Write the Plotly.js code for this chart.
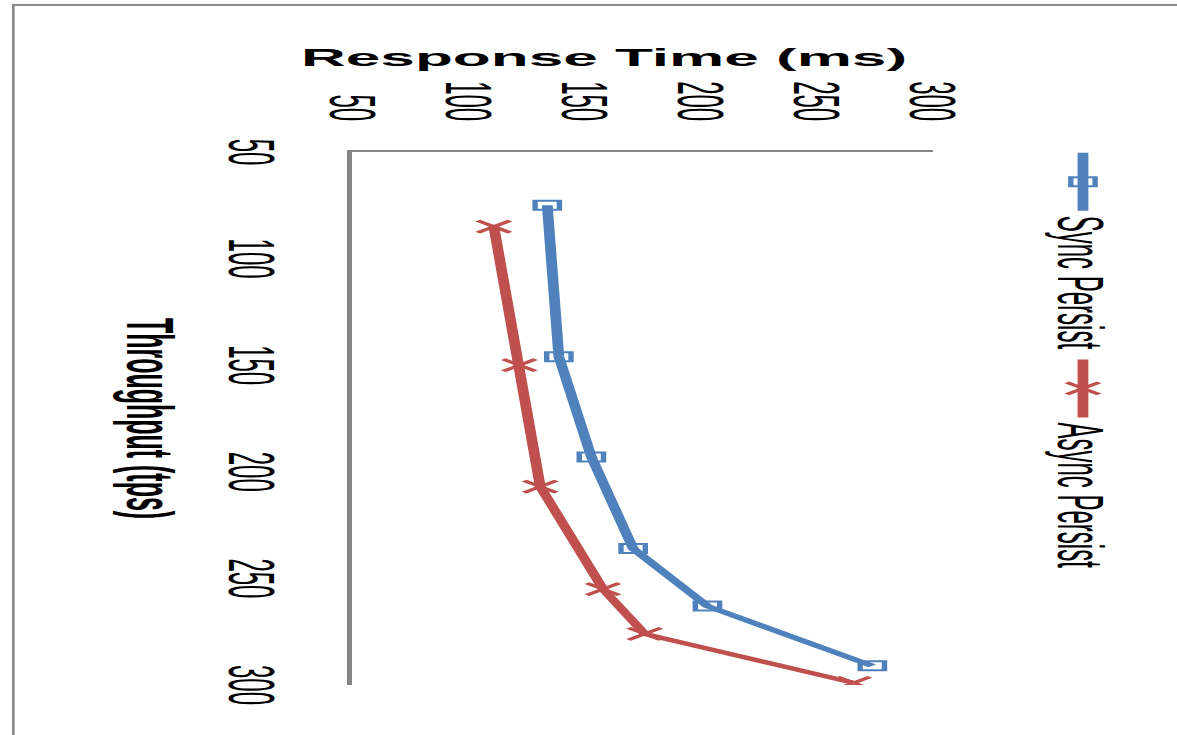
<!DOCTYPE html>
<html>
<head>
<meta charset="utf-8">
<script src="https://cdn.plot.ly/plotly-3.0.1.min.js"></script>
<style>
  html, body { margin: 0; padding: 0; background: #ffffff; overflow: hidden; width: 1177px; height: 735px; }
  /* The original chart is drawn upright, then turned 90° clockwise and stretched sideways,
     exactly as it appears in the reference picture. */
  #chart, #frame {
    position: absolute; left: 0; top: 0;
    width: 760px; height: 440px;
    transform-origin: 0 0;
    transform: matrix(0, 1, -2.7, 0, 1200, 4);
  }
  #frame {
    box-sizing: border-box;
    border-left: 2px solid #8a8a8a;
    border-bottom: 1.5px solid #8a8a8a;
    pointer-events: none;
  }
</style>
</head>
<body>
<div id="chart"></div>
<div id="frame"></div>
<script>
// ---- data ----
const seriesNames = ["Sync Persist", "Async Persist"];
const throughputSync = [75, 146, 193, 236, 263, 291];
const responseSync   = [134, 139, 153, 171, 203, 274];
const throughputAsync = [85, 150, 207, 255, 276, 299];
const responseAsync   = [111, 122, 131, 158, 176, 266];
const xTickVals = [50, 100, 150, 200, 250, 300];
const yTickVals = [50, 100, 150, 200, 250, 300];
const xTitle = "Throughput (tps)";
const yTitle = "Response Time (ms)";

const FONT = "'Liberation Sans', Arial, sans-serif";
const blue = "#4F81BD";
const red = "#C0504D";
const axisGrey = "#868686";

const traces = [
  {
    x: throughputSync, y: responseSync, name: seriesNames[0],
    type: "scatter", mode: "lines+markers",
    line: { color: blue, width: 4 },
    marker: { symbol: "square-open", size: 9, color: blue, line: { color: blue, width: 2 } }
  },
  {
    x: throughputAsync, y: responseAsync, name: seriesNames[1],
    type: "scatter", mode: "lines+markers",
    line: { color: red, width: 4 },
    marker: { symbol: "x-thin-open", size: 12, color: red, line: { color: red, width: 2.5 } }
  }
];

const layout = {
  width: 760, height: 440,
  margin: { l: 148, r: 79, t: 99, b: 126, pad: 0 },
  paper_bgcolor: "#ffffff",
  plot_bgcolor: "#ffffff",
  font: { family: FONT, size: 24, color: "#000000" },
  showlegend: true,
  legend: {
    orientation: "h",
    x: -0.008, xanchor: "left",
    y: 1.257, yanchor: "middle",
    itemwidth: 58,
    font: { family: FONT, size: 24, color: "#000000" },
    bgcolor: "rgba(0,0,0,0)",
    borderwidth: 0
  },
  xaxis: {
    range: [50, 300],
    tickmode: "array", tickvals: xTickVals,
    ticks: "", showgrid: false, zeroline: false,
    showline: true, linecolor: axisGrey, linewidth: 2,
    ticklabelstandoff: 15,
    tickfont: { family: FONT, size: 24, color: "#000000" },
    automargin: false,
    title: { text: xTitle, standoff: 16, font: { family: FONT, size: 25, color: "#000000", weight: 700 } }
  },
  yaxis: {
    range: [50, 300],
    tickmode: "array", tickvals: yTickVals,
    ticks: "", showgrid: false, zeroline: false,
    showline: true, linecolor: axisGrey, linewidth: 2,
    ticklabelstandoff: 24,
    tickfont: { family: FONT, size: 24, color: "#000000" },
    automargin: false
  },
  annotations: [
    {
      text: yTitle, xref: "paper", yref: "paper",
      x: -0.1754, y: 0.435, xanchor: "center", yanchor: "middle",
      textangle: -90, showarrow: false,
      font: { family: FONT, size: 23, color: "#000000", weight: 700 }
    }
  ]
};

Plotly.newPlot("chart", traces, layout, { displayModeBar: false, staticPlot: true });
</script>
</body>
</html>
